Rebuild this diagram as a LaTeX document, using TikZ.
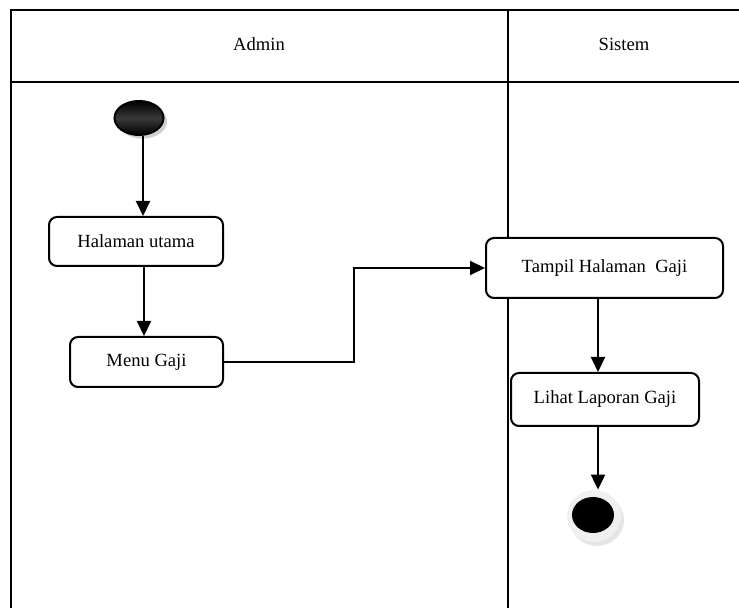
\documentclass[tikz,border=0pt]{standalone}
\usepackage{fontspec}
\setmainfont{Liberation Serif}
\usetikzlibrary{arrows.meta,positioning,calc,shapes.geometric,shadows}

\begin{document}
\begin{tikzpicture}[x=0.5pt, y=-0.5pt, >={Triangle[length=7.5pt, width=7pt]},
    font=\fontsize{9.3}{11}\selectfont,
    lane/.style={line width=1pt, black},
    activity/.style={draw, line width=1pt, rounded corners=4pt, fill=white,
      inner sep=0pt, align=center},
    flow/.style={->, line width=1pt, black}]
    \useasboundingbox (0,0) rectangle (739,608);
    % --- swimlanes ---
    \draw[lane] (11,608) -- (11,10) -- (739,10);
    \draw[lane] (11,82) -- (739,82);
    \draw[lane] (508,10) -- (508,608);
    \node (admin) at (259,44) {Admin};
    \node (sistem) at (624,44) {Sistem};
    % --- start / end ---
    \node[ellipse, draw, line width=1pt, minimum width=24.5pt, minimum height=17pt,
      inner sep=0pt, shading=axis, top color=black, bottom color=black,
      middle color=gray!45!black,
      drop shadow={shadow xshift=1.8pt, shadow yshift=-1.8pt, fill=gray!75}]
      (start) at (139,118) {};
    \node[ellipse, minimum width=27pt, minimum height=26pt, inner sep=0pt,
      fill=gray!12,
      drop shadow={shadow xshift=1.5pt, shadow yshift=-2pt, fill=gray!40}]
      (endring) at (594,516) {};
    \node[ellipse, fill=black, minimum width=21pt, minimum height=18pt,
      inner sep=0pt] (stop) at (593,515) {};
    % --- activities ---
    \node[activity, minimum width=87pt, minimum height=24.5pt]
      (halaman) at (136,241.5) {Halaman utama};
    \node[activity, minimum width=76.5pt, minimum height=25pt]
      (menu) at (146.5,362) {Menu Gaji};
    \node[activity, minimum width=118.5pt, minimum height=30pt]
      (tampil) at (604.5,268) {Tampil Halaman\ \ Gaji};
    \node[activity, minimum width=94pt, minimum height=26.5pt]
      (lihat) at (605,399.5) {Lihat Laporan Gaji};
    % --- transitions ---
    \draw[flow] (start.south -| 143,0) -- (halaman.north -| 143,0);
    \draw[flow] (halaman.south -| 144,0) -- (menu.north -| 144,0);
    \draw[flow] (menu.east) -- ++(130,0) |- (tampil.west);
    \draw[flow] (tampil.south -| 598,0) -- (lihat.north -| 598,0);
    \draw[flow] (lihat.south -| 598,0) -- (endring.north -| 598,0);
  \end{tikzpicture}
\end{document}
